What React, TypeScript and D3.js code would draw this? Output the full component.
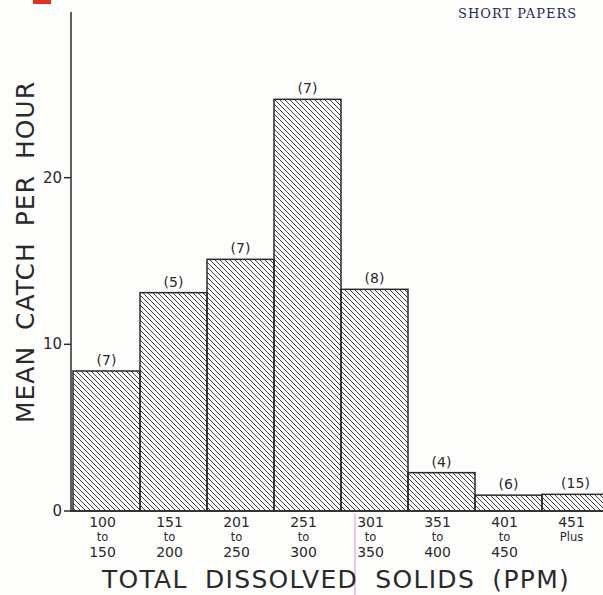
import React from "react";
import * as d3 from "d3";

const categories = ["100-150", "151-200", "201-250", "251-300", "301-350", "351-400", "401-450", "451+"];
const tickTop = ["100", "151", "201", "251", "301", "351", "401", "451"];
const tickMid = ["to", "to", "to", "to", "to", "to", "to", "Plus"];
const tickBot = ["150", "200", "250", "300", "350", "400", "450", ""];
const meanCatch = [8.4, 13.1, 15.1, 24.7, 13.3, 2.3, 0.95, 1.0];
const sampleCounts = [7, 5, 7, 7, 8, 4, 6, 15];
const yTicks = [0, 10, 20];

export default function App() {
  const W = 603, H = 595;
  const x = d3.scaleBand<string>().domain(categories).range([73, 609]).padding(0);
  const y = d3.scaleLinear().domain([0, 30]).range([511, 11]);
  const ink = "#2a2a2a";
  const font = "'DejaVu Sans', 'Liberation Sans', sans-serif";
  return (
    <svg width={W} height={H} style={{ position: "absolute", left: 0, top: 0, background: "#fdfdfb" }} fontFamily={font}>
      <defs>
        <pattern id="hatch" patternUnits="userSpaceOnUse" width={5} height={5}>
          <path d="M-1,-1 L6,6 M-1,4 L1,6 M4,-1 L6,1" stroke={ink} strokeWidth={0.9} />
        </pattern>
      </defs>
      <rect x={0} y={0} width={W} height={H} fill="#fdfdfb" />
      {/* partial header text from scan */}
      <text x={458} y={18} fontFamily="'DejaVu Serif', serif" fontSize={13} fill="#1f2a5c" letterSpacing={1}>SHORT PAPERS</text>
      <rect x={33} y={0} width={18} height={4} fill="#e03020" />
      <line x1={355} x2={355} y1={514} y2={595} stroke="#e9a0d8" strokeWidth={1.2} />
      {/* bars */}
      {categories.map((c, i) => (
        <g key={c}>
          <rect x={x(c)!} y={y(meanCatch[i])} width={x.bandwidth()} height={y(0) - y(meanCatch[i])}
            fill="url(#hatch)" stroke={ink} strokeWidth={1.5} />
          <text x={x(c)! + x.bandwidth() / 2} y={y(meanCatch[i]) - 6} textAnchor="middle" fontSize={14} fill={ink}>
            ({sampleCounts[i]})
          </text>
          <text x={x(c)! + x.bandwidth() / 2 - 4} y={527} textAnchor="middle" fontSize={14} fill={ink}>{tickTop[i]}</text>
          <text x={x(c)! + x.bandwidth() / 2 - 4} y={541} textAnchor="middle" fontSize={11.5} fill={ink}>{tickMid[i]}</text>
          <text x={x(c)! + x.bandwidth() / 2 - 4} y={557} textAnchor="middle" fontSize={14} fill={ink}>{tickBot[i]}</text>
        </g>
      ))}
      {/* axes */}
      <line x1={71} x2={71} y1={12} y2={512} stroke={ink} strokeWidth={1.5} />
      <line x1={71} x2={603} y1={511} y2={511} stroke={ink} strokeWidth={1.5} />
      {yTicks.map((t) => (
        <g key={t}>
          <line x1={64} x2={71} y1={y(t)} y2={y(t)} stroke={ink} strokeWidth={1.5} />
          <text x={62} y={y(t) + 5} textAnchor="end" fontSize={15} fill={ink}>{t}</text>
        </g>
      ))}
      <text x={336} y={588} textAnchor="middle" fontSize={25} fill={ink} letterSpacing={1.3} wordSpacing={8}>
        TOTAL DISSOLVED SOLIDS (PPM)
      </text>
      <text transform="translate(34,252) rotate(-90)" textAnchor="middle" fontSize={25} fill={ink} letterSpacing={1} wordSpacing={7}>
        MEAN CATCH PER HOUR
      </text>
    </svg>
  );
}
